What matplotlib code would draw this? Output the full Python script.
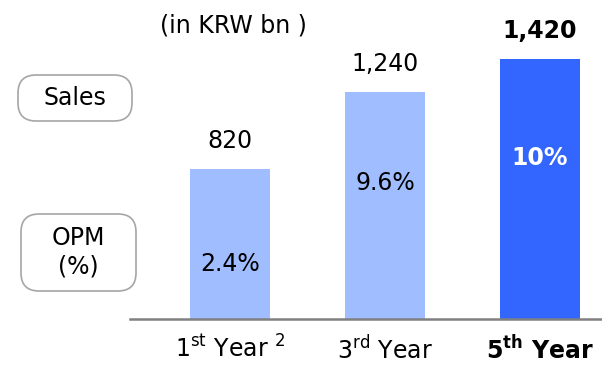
import numpy as np
import matplotlib.pyplot as plt
from matplotlib.patches import FancyBboxPatch

years = ["1st", "3rd", "5th"]
tick_labels = [r"1$^{\mathregular{st}}$ Year $^{\mathregular{2}}$",
               r"3$^{\mathregular{rd}}$ Year",
               r"5$^{\mathbf{th}}$ Year"]
sales = [820, 1240, 1420]
sales_text = ["820", "1,240", "1,420"]
opm_text = ["2.4%", "9.6%", "10%"]

light = "#a0beff"
dark = "#3366ff"
colors = [light, light, dark]
W, H = 602, 365
FS = 17

fig = plt.figure(figsize=(W / 100, H / 100), dpi=100)
# axes: left edge at 130px, baseline 319px from top
ax = fig.add_axes([130 / W, 46 / H, 472 / W, 319 / H])
x = np.arange(len(sales))
ax.bar(x, sales, width=0.52, color=colors, zorder=2)
ax.set_xlim(-0.645, 2.4)
ax.set_ylim(0, 319 / 0.183)

for s in ["top", "right", "left"]:
    ax.spines[s].set_visible(False)
ax.spines["bottom"].set_color("#808080")
ax.spines["bottom"].set_linewidth(1.8)
ax.set_yticks([])
ax.set_xticks(x)
ax.set_xticklabels(tick_labels, fontsize=FS)
ax.get_xticklabels()[2].set_fontweight("bold")
ax.tick_params(axis="x", length=0, pad=12)

# sales labels above bars
for i, (v, t) in enumerate(zip(sales, sales_text)):
    ax.annotate(t, (i, v), xytext=(0, 20), textcoords="offset points",
                ha="center", va="center", fontsize=FS,
                fontweight="bold" if i == 2 else "normal")

# OPM labels inside bars (heights above baseline, in px)
opm_px = [55, 136, 161]
for i, (t, p) in enumerate(zip(opm_text, opm_px)):
    ax.text(i, p / 0.183, t, ha="center", va="center", fontsize=FS,
            color="white" if i == 2 else "black",
            fontweight="bold" if i == 2 else "normal")

fig.text(233 / W, 1 - 25 / H, "(in KRW bn )", ha="center", va="center", fontsize=FS)

# rounded label boxes
def box(x0, y0, x1, y1, text):
    p = FancyBboxPatch((x0 / W, 1 - y1 / H), (x1 - x0) / W, (y1 - y0) / H,
                       boxstyle="round,pad=0,rounding_size=0.03",
                       transform=fig.transFigure, facecolor="white",
                       edgecolor="#a6a6a6", linewidth=1.2,
                       mutation_aspect=W / H)
    fig.patches.append(p)
    fig.text((x0 + x1) / 2 / W, 1 - (y0 + y1) / 2 / H, text, ha="center",
             va="center", fontsize=FS, linespacing=1.25)

box(18, 75, 132, 121, "Sales")
box(21, 214, 136, 291, "OPM\n(%)")

fig.savefig("out.png", dpi=100)
